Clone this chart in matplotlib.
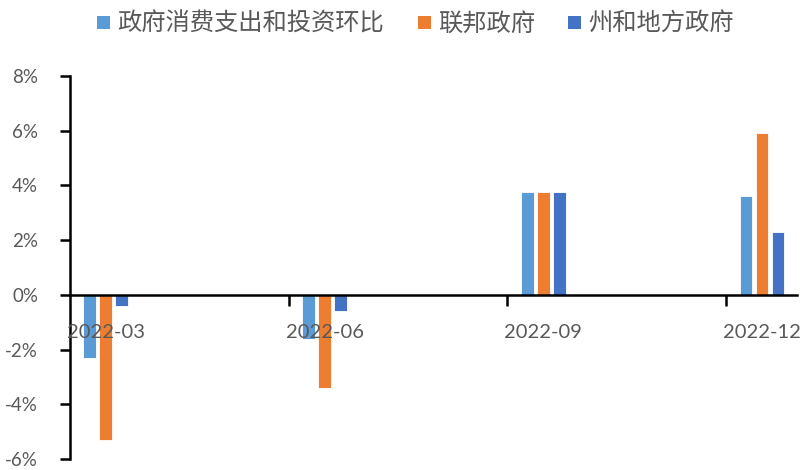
import matplotlib
matplotlib.use("Agg")
import matplotlib.pyplot as plt
from matplotlib.patches import Patch
import numpy as np

plt.rcParams['font.family'] = ['Lato', 'Noto Sans CJK SC', 'DejaVu Sans']

# Quarterly growth of government consumption and investment (q/q, %)
quarters = ["2022-03", "2022-06", "2022-09", "2022-12"]
series_names = ["政府消费支出和投资环比", "联邦政府", "州和地方政府"]
total = [-2.3, -1.6, 3.75, 3.6]
federal = [-5.3, -3.4, 3.75, 5.9]
state_local = [-0.4, -0.6, 3.75, 2.3]
yticks = [-6, -4, -2, 0, 2, 4, 6, 8]

colors = ["#5B9BD5", "#ED7D31", "#4472C4"]
text_gray = "#595959"

W, H = 805, 470
fig = plt.figure(figsize=(W / 100, H / 100), dpi=100)
ax = fig.add_axes([70 / W, 11 / H, 727 / W, 383 / H])

x = np.arange(len(quarters))
step = 0.073
width = 0.059
for k, (vals, c) in enumerate(zip([total, federal, state_local], colors)):
    ax.bar(x + (k - 1) * step, vals, width=width, color=c,
           edgecolor="white", linewidth=0.6, zorder=1)

ax.set_xlim(-0.164, 3.16)
ax.set_ylim(-6, 8)

# y axis
ax.set_yticks(yticks)
ax.set_yticklabels([f"{v}%" for v in yticks])
ax.tick_params(axis="y", direction="out", length=7, width=1.8,
               colors="black", labelcolor=text_gray, labelsize=13.5, pad=16)

# x axis along zero line: labels at the groups, tick marks between them
ax.spines["bottom"].set_position(("data", 0))
ax.spines["bottom"].set_linewidth(1.8)
ax.spines["left"].set_linewidth(1.8)
ax.spines["top"].set_visible(False)
ax.spines["right"].set_visible(False)
ax.set_xticks(x)
ax.set_xticklabels(quarters)
ax.tick_params(axis="x", length=0, labelcolor=text_gray, labelsize=14.5, pad=21)
ax.set_xticks(x[1:] - 0.164, minor=True)
ax.tick_params(axis="x", which="minor", direction="out", length=8, width=1.8,
               colors="black")
ax.xaxis.set_zorder(3)
ax.yaxis.set_zorder(3)

handles = [Patch(facecolor=c, edgecolor="none") for c in colors]
fig.legend(handles, series_names, loc="center", bbox_to_anchor=(415.5 / W, 1 - 24 / H),
           ncol=3, frameon=False, labelcolor=text_gray,
           handlelength=0.54, handleheight=0.46, handletextpad=0.29,
           columnspacing=1.37, borderpad=0.2,
           prop={'family': ['Noto Sans CJK SC'], 'size': 17.5})

fig.savefig("out.png", dpi=100)
